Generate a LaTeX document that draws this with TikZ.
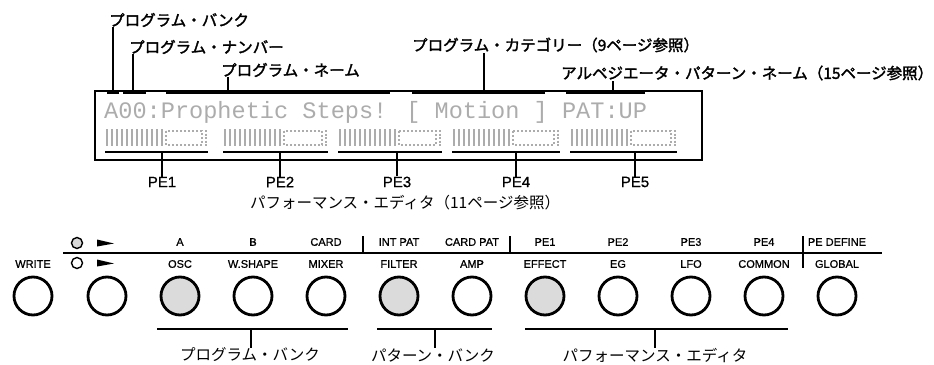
\documentclass[tikz,border=0pt]{standalone}
\usepackage{fontspec}
\setmainfont{Liberation Sans}
\newfontfamily\jp{Noto Sans CJK JP}
\newfontfamily\jpb[FakeBold=2]{Noto Sans CJK JP}
\newfontfamily\keyfont[FakeBold=0.8]{Liberation Sans}
\newfontfamily\lcdfont{Liberation Mono}
\tikzset{
  toplbl/.style={font=\jpb\fontsize{15.5}{17}\selectfont, inner sep=0pt, anchor=west},
  botlbl/.style={font=\jp\fontsize{15.5}{17}\selectfont, inner sep=0pt},
  pelbl/.style={font=\keyfont\fontsize{15}{16}\selectfont, inner sep=0pt},
  stem/.style={line width=2.5pt},
  brk/.style={line width=2.7pt},
  ubar/.style={line width=2.5pt},
  btn/.style={circle, draw, line width=2.8pt, minimum size=38pt, inner sep=0pt},
  btnfill/.style={btn, fill=gray!28},
  keylbl/.style={font=\keyfont\fontsize{11}{12}\selectfont, inner sep=0pt},
  lcdgray/.style={gray!65},
}
\begin{document}
\begin{tikzpicture}[x=1pt,y=-1pt]
\useasboundingbox (0,0) rectangle (934,364);

% ---------- LCD box ----------
\node[draw, line width=1.6pt, minimum width=607pt, minimum height=69pt, inner sep=0pt, anchor=north west] (lcd) at (94,90) {};
\node[font=\lcdfont\fontsize{23.6}{24}\selectfont, text=gray!65, inner sep=0pt, anchor=base west] (lcdtext) at (104,118) {A00:Prophetic Steps! [ Motion ] PAT:UP};

% line 2 blocks
\foreach \i/\xa/\xb in {1/105/208, 2/223/328, 3/338/442, 4/452/560, 5/570/677}{
  \foreach \k in {0,...,11}{
    \draw[lcdgray, line width=2.6pt] ({\xa+2+\k*5},129) -- ({\xa+2+\k*5},146);
  }
  \draw[lcdgray, line width=1.2pt, dash pattern=on 2pt off 2pt] ({\xa+61},131) rectangle ({\xb-6},145);
  \draw[lcdgray, line width=1.4pt, dash pattern=on 2pt off 1.5pt] ({\xb-2},130) -- ({\xb-2},146);
  \coordinate (u\i L) at (\xa,152);
  \coordinate (u\i R) at (\xb,152);
  \draw[ubar] (u\i L) -- (u\i R);
}

% ---------- top labels ----------
\node[toplbl] (bankl) at (109,20) {プログラム・バンク};
\node[toplbl] (numl) at (129,47) {プログラム・ナンバー};
\node[toplbl] (namel) at (221,70) {プログラム・ネーム};
\node[toplbl] (catl) at (412,45) {プログラム・カテゴリー（9ページ参照）};
\node[toplbl] (arpl) at (561,73) {アルペジエータ・パターン・ネーム（15ページ参照）};

% brackets
\coordinate (bkL) at (107,93); \coordinate (bkR) at (119,93); \coordinate (bkS) at (113,93);
\coordinate (nmL) at (123,93); \coordinate (nmR) at (146,93); \coordinate (nmS) at (133,93);
\coordinate (naL) at (166,93); \coordinate (naR) at (390,93); \coordinate (naS) at (228,93);
\coordinate (caL) at (412,93); \coordinate (caR) at (545,93); \coordinate (caS) at (484,93);
\coordinate (paL) at (566,93); \coordinate (paR) at (645,93); \coordinate (paS) at (613,93);
\foreach \b in {bk,nm,na,ca,pa}{ \draw[brk] (\b L) -- (\b R); }
\draw[stem] (bkS) -- (bkS |- bankl.south);
\draw[stem] (nmS) -- (nmS |- numl.south);
\draw[stem] (naS) -- (naS |- namel.south);
\draw[stem] (caS) -- (caS |- catl.south);
\draw[stem] (paS) -- (paS |- arpl.south);

% ---------- PE labels ----------
\foreach \i/\x in {1/162, 2/280, 3/397, 4/516, 5/635}{
  \node[pelbl] (pe\i) at (\x,182) {PE\i};
  \coordinate (ps\i) at (\x,152);
  \draw[stem] (ps\i) -- (pe\i.north);
}
\node[botlbl] (perfl) at (405,203) {パフォーマンス・エディタ（11ページ参照）};

% ---------- key panel ----------
\coordinate (tlL) at (63,253); \coordinate (tlR) at (882,253);
\draw[line width=1.5pt] (tlL) -- (tlR);
\coordinate (s1t) at (363,236); \coordinate (s1b) at (363,253);
\coordinate (s2t) at (510,236); \coordinate (s2b) at (510,253);
\coordinate (s3t) at (803,236); \coordinate (s3b) at (803,268);
\draw[line width=1.5pt] (s1t) -- (s1b);
\draw[line width=1.5pt] (s2t) -- (s2b);
\draw[line width=1.5pt] (s3t) -- (s3b);

% icons above second key
\node[circle, draw, line width=1.4pt, fill=gray!30, minimum size=11pt, inner sep=0pt] (rec1) at (77,243) {};
\node[circle, draw, line width=1.4pt, minimum size=11pt, inner sep=0pt] (rec2) at (77,263) {};
\fill (97,239.5) -- (97,246.5) -- (114,243.5) -- cycle;
\fill (97,259.5) -- (97,266.5) -- (114,263.5) -- cycle;

% keys
\foreach \n/\x/\up/\lo/\st in {
  1/33//WRITE/btn,
  2/107///btn,
  3/180/A/OSC/btnfill,
  4/253/B/W.SHAPE/btn,
  5/326/CARD/MIXER/btn,
  6/399/INT PAT/FILTER/btnfill,
  7/472/CARD PAT/AMP/btn,
  8/545/PE1/EFFECT/btnfill,
  9/618/PE2/EG/btn,
  10/691/PE3/LFO/btn,
  11/764/PE4/COMMON/btn,
  12/837/PE DEFINE/GLOBAL/btn}{
  \node[\st] (k\n) at (\x,296) {};
  \node[keylbl] (ku\n) at (\x,242) {\up};
  \node[keylbl] (kl\n) at (\x,264) {\lo};
}

% bottom brackets
\coordinate (pbL) at (157,329); \coordinate (pbR) at (348,329); \coordinate (pbS) at (251,329);
\coordinate (tbL) at (377,329); \coordinate (tbR) at (492,329); \coordinate (tbS) at (435,329);
\coordinate (ebL) at (525,329); \coordinate (ebR) at (788,329); \coordinate (ebS) at (655,329);
\draw[brk] (pbL) -- (pbR);
\draw[brk] (tbL) -- (tbR);
\draw[brk] (ebL) -- (ebR);
\node[botlbl] (pbl) at (250,355) {プログラム・バンク};
\node[botlbl] (tbl) at (433,355) {パターン・バンク};
\node[botlbl] (ebl) at (655,355) {パフォーマンス・エディタ};
\draw[stem] (pbS) -- (pbl.north -| pbS);
\draw[stem] (tbS) -- (tbl.north -| tbS);
\draw[stem] (ebS) -- (ebl.north -| ebS);
\end{tikzpicture}
\end{document}
